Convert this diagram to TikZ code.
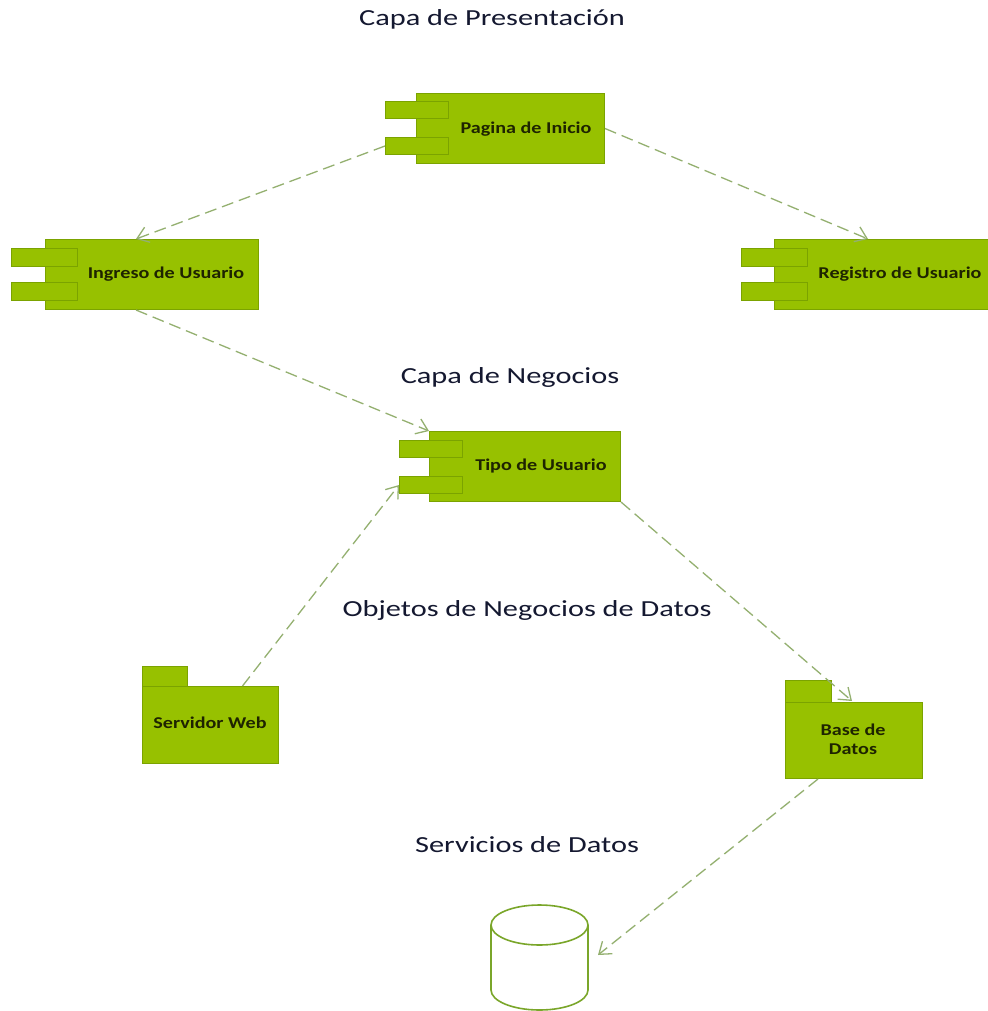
\documentclass[tikz,border=0pt]{standalone}
\usepackage{fontspec}
\setmainfont{Carlito}
\newfontfamily\titlefont{Carlito}[FakeStretch=1.32]
\newfontfamily\boxfont{Carlito}[FakeStretch=1.22]
\usetikzlibrary{arrows.meta,calc}
\definecolor{boxgreen}{HTML}{97C100}
\definecolor{boxline}{HTML}{7BA300}
\definecolor{arrowgreen}{HTML}{94B070}
\definecolor{cylline}{HTML}{7AA62A}
\definecolor{boxtextcol}{HTML}{1E2400}
\definecolor{titlecol}{HTML}{141830}
\begin{document}
\begin{tikzpicture}[x=1pt,y=-1pt,
  box/.style={draw=boxline, fill=boxgreen, line width=1pt, inner sep=0pt, anchor=north west},
  boxtext/.style={font=\boxfont\bfseries\fontsize{16.5}{19}\selectfont, text=boxtextcol, align=center, inner sep=0pt},
  title/.style={font=\titlefont\fontsize{23}{27}\selectfont, text=titlecol, inner sep=0pt},
  dep/.style={draw=arrowgreen, line width=1.3pt, dash pattern=on 12pt off 6pt, -{Straight Barb[length=11pt,width=16pt,line width=1.3pt]}}]
\useasboundingbox (0,0) rectangle (987,1011);
\fill[white] (0,0) rectangle (987,1011);

% titles
\node[title] (t1) at (492,19) {Capa de Presentación};
\node[title] (t2) at (510,377) {Capa de Negocios};
\node[title] (t3) at (527,610) {Objetos de Negocios de Datos};
\node[title] (t4) at (527,845) {Servicios de Datos};

% Pagina de Inicio
\node[box, minimum width=188pt, minimum height=70pt] (pag) at (416,93) {};
\node[box, minimum width=63pt, minimum height=17pt] (pagA) at (385,101) {};
\node[box, minimum width=63pt, minimum height=17pt] (pagB) at (385,137) {};
\node[boxtext] (pagT) at (526,129) {Pagina de Inicio};

% Ingreso de Usuario
\node[box, minimum width=213pt, minimum height=70pt] (ing) at (45,239) {};
\node[box, minimum width=66pt, minimum height=18pt] (ingA) at (11,248) {};
\node[box, minimum width=66pt, minimum height=18pt] (ingB) at (11,282) {};
\node[boxtext] (ingT) at (166,274) {Ingreso de Usuario};

% Registro de Usuario
\node[box, minimum width=222pt, minimum height=70pt] (reg) at (774,239) {};
\node[box, minimum width=66pt, minimum height=18pt] (regA) at (741,248) {};
\node[box, minimum width=66pt, minimum height=18pt] (regB) at (741,282) {};
\node[boxtext] (regT) at (900,274) {Registro de Usuario};

% Tipo de Usuario
\node[box, minimum width=191pt, minimum height=70pt] (tipo) at (429,431) {};
\node[box, minimum width=63pt, minimum height=17pt] (tipoA) at (399,440) {};
\node[box, minimum width=63pt, minimum height=17pt] (tipoB) at (399,476) {};
\node[boxtext] (tipoT) at (541,466) {Tipo de Usuario};

% Servidor Web (package)
\node[box, minimum width=45pt, minimum height=20pt] (srvTab) at (142,666) {};
\node[box, minimum width=136pt, minimum height=77pt] (srv) at (142,686) {};
\node[boxtext] (srvT) at (210,723) {Servidor Web};

% Base de Datos (package)
\node[box, minimum width=46pt, minimum height=22pt] (baseTab) at (785,680) {};
\node[box, minimum width=137pt, minimum height=76pt] (base) at (785,702) {};
\node[boxtext] (baseT) at (853,739) {Base de\\Datos};

% cylinder
\draw[cylline, line width=1.6pt, fill=white] (491,925) -- (491,990) arc[start angle=180, end angle=0, x radius=48.5, y radius=20] -- (588,925);
\draw[cylline, line width=1.6pt, fill=white] (539.5,925) ellipse[x radius=48.5, y radius=20];
\coordinate (cyl) at (598,955);

% dependencies
\draw[dep] (pagB.west) -- ([xshift=-16pt]ing.north);
\draw[dep] (pag.east) -- ([xshift=94pt]reg.north west);
\draw[dep] ([xshift=-16pt]ing.south) -- (tipo.north west);
\draw[dep] ([xshift=32pt]srv.north) -- (tipoB.west);
\draw[dep] (tipo.south east) -- ([xshift=67pt,yshift=1pt]base.north west);
\draw[dep] ([xshift=33pt]base.south west) -- (cyl);
\end{tikzpicture}
\end{document}
